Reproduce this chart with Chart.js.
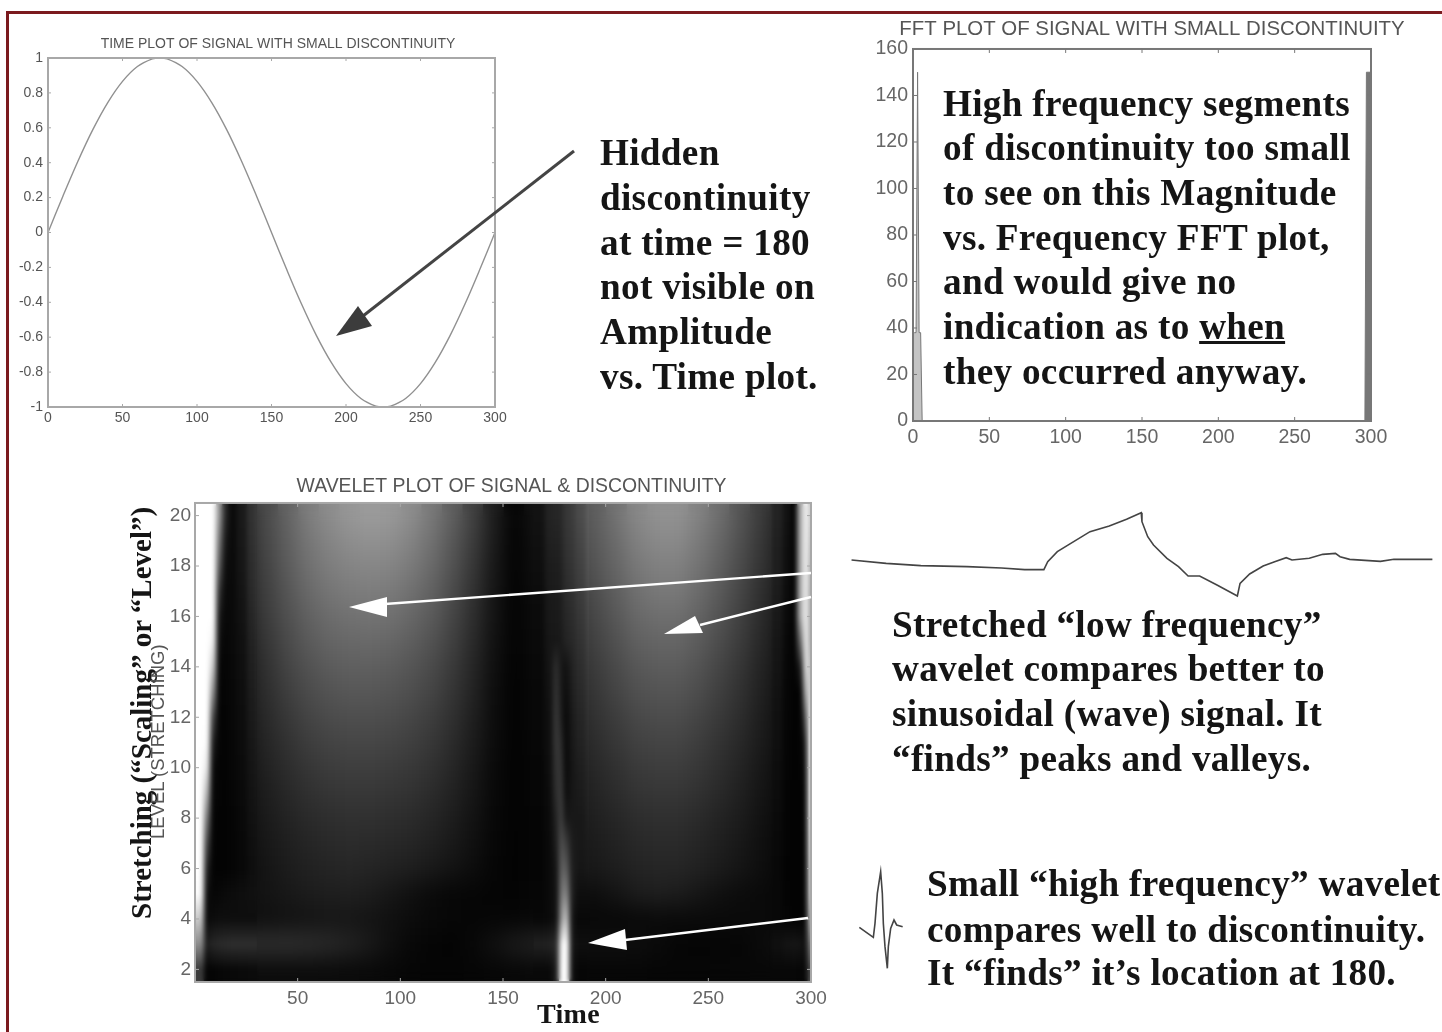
<!DOCTYPE html>
<html><head><meta charset="utf-8">
<script src="https://cdn.jsdelivr.net/npm/chart.js@4"></script>
<style>
html,body{margin:0;padding:0;background:#fff;overflow:hidden}
#stage{position:relative;width:1442px;height:1032px;overflow:hidden;background:#fff;filter:blur(0.7px)}
#border{position:absolute;left:6px;top:11px;width:1600px;height:1200px;border:3px solid #7b1a1e;box-sizing:border-box}
canvas{position:absolute}
.t{position:absolute;white-space:nowrap;font-family:"Liberation Serif",serif;font-weight:bold;color:#151515;line-height:44px;font-size:37.2px;letter-spacing:.3px}
.rot{position:absolute;white-space:nowrap;transform-origin:0 0;transform:rotate(-90deg)}
svg{position:absolute;left:0;top:0}
</style></head><body><div id="stage">
<div id="border"></div>
<canvas id="c1" style="left:0;top:30px" width="556" height="397"></canvas>
<canvas id="c2" style="left:860px;top:10px" width="584" height="439"></canvas>
<canvas id="c3" style="left:120px;top:470px" width="783" height="540"></canvas>
<canvas id="w1" style="left:840px;top:500px" width="602" height="120"></canvas>
<canvas id="w2" style="left:850px;top:860px" width="70" height="110"></canvas>
<svg width="1442" height="1032">
<g fill="#fff" stroke="#fff">
<line x1="811" y1="573" x2="385" y2="604" stroke-width="2.4"/><polygon points="349,607 387,597 387,617" stroke="none"/>
<line x1="811" y1="597" x2="700" y2="625" stroke-width="2.4"/><polygon points="664,634 695,616 703,633" stroke="none"/>
<line x1="808" y1="918" x2="625" y2="940" stroke-width="2.4"/><polygon points="588,943 625,929 627,950" stroke="none"/>
</g>
<line x1="574" y1="151" x2="363" y2="316" stroke="#444" stroke-width="3"/><polygon points="336,336 358,306 372,326" fill="#3c3c3c"/>
</svg>
<div id="text"></div>
<div class="rot" style="left:125px;top:919px;font:bold 29px 'Liberation Serif',serif;color:#151515">Stretching (“Scaling” or “Level”)</div>
<div class="rot" style="left:147px;top:839px;font:18.5px 'Liberation Sans',sans-serif;color:#555">LEVEL (STRETCHING)</div>
<div class="t" style="left:537px;top:992px;font-size:28px">Time</div>
</div>
<script>
// ---- Chart 1: time plot
const timeT = [0,10,20,30,40,50,60,70,75,80,90,100,110,120,130,140,150,160,170,180,190,200,210,220,225,230,240,250,260,270,280,290,300];
const timeAmp = [0,.208,.407,.588,.743,.866,.951,.995,1,.995,.951,.866,.743,.588,.407,.208,0,-.208,-.407,-.588,-.743,-.866,-.951,-.995,-1,-.995,-.951,-.866,-.743,-.588,-.407,-.208,0];
// ---- Chart 2: FFT plot
const fftLowF = [0,1,2,3,4,5,6,50,150];
const fftLowM = [38,38,38,150,38,38,0,0,0];
const fftHighF = [150,250,296,297,299.5,300];
const fftHighM = [0,0,0,150,150,0];
// ---- Chart 3: wavelet heat map (grey 0-255), one list per level, one value per time column
const timeEdges = [0,4,7,10,13,16,20,25,30,40,50,60,70,80,90,100,110,120,130,140,150,160,170,174,177,179,182,185,190,200,210,220,230,240,250,260,270,280,286,290,293,296,298,300];
const levels = [20,19,18,17,16,15,14,13,12,11,10,9,8,7,6,5,4,3,2];
const L20=[255,255,255,150,40,10,25,50,75,100,125,140,150,155,152,140,120,95,65,30,5,18,35,38,40,55,60,75,95,115,135,145,145,130,110,85,60,35,18,3,170,255,200];
const L19=[255,255,255,120,25,10,24,48,72,96,118,132,141,145,142,131,112,88,60,28,4,16,32,34,36,52,56,70,90,108,128,137,137,122,103,80,56,32,16,3,170,255,190];
const L18=[255,255,255,90,15,10,22,45,68,92,112,125,132,135,132,122,105,82,55,25,4,14,28,30,32,48,52,65,85,102,120,128,128,115,96,75,52,30,14,3,170,255,180];
const L17=[255,255,255,50,10,10,20,42,64,86,105,117,123,125,122,112,97,75,50,22,4,12,26,28,30,44,48,60,78,95,112,120,120,107,90,70,48,28,12,3,170,255,170];
const L16=[255,255,255,25,8,10,18,38,60,80,97,108,113,115,112,103,90,70,46,20,4,11,24,26,28,40,44,55,72,88,104,110,110,99,83,65,44,25,10,3,170,255,170];
const L15=[255,255,240,15,6,10,16,34,55,74,90,100,104,105,102,94,82,64,42,18,4,10,22,24,25,36,40,50,66,81,96,101,101,91,76,60,40,22,8,3,100,255,170];
const L14=[255,255,200,8,5,9,15,31,50,68,82,91,95,95,92,85,74,58,38,16,3,9,20,45,24,18,34,45,60,74,87,92,92,83,69,54,36,20,7,3,30,240,190];
const L13=[255,255,140,6,5,8,14,28,46,62,75,83,87,87,84,78,68,53,35,14,3,8,18,50,26,14,30,41,55,68,80,84,84,76,63,49,33,18,6,3,4,180,210];
const L12=[255,255,70,5,4,8,13,26,42,56,68,75,78,78,76,70,61,48,31,13,3,8,16,55,30,10,26,37,50,61,72,76,76,68,57,45,30,16,6,3,4,90,240];
const L11=[255,250,30,5,4,7,12,23,38,50,61,67,70,70,68,63,55,43,28,12,3,7,15,55,45,10,24,34,45,55,65,68,68,61,51,40,27,15,5,3,4,30,255];
const L10=[255,230,12,4,4,7,11,21,34,45,54,60,62,62,60,56,49,38,25,10,3,6,14,50,55,10,22,30,40,49,58,61,61,55,46,36,24,13,5,3,4,15,255];
const L9=[255,180,8,4,3,6,10,19,30,40,48,53,55,55,53,50,43,34,22,9,3,6,12,45,62,14,22,27,36,44,52,54,54,49,41,32,21,12,4,3,3,8,255];
const L8=[255,120,6,3,3,5,9,17,27,35,42,46,48,48,46,43,37,29,19,8,3,5,11,35,70,25,24,24,32,38,45,47,47,42,35,28,18,10,4,3,3,6,250];
const L7=[255,70,5,3,3,5,8,15,24,31,37,41,43,42,40,37,32,25,16,7,3,5,10,30,85,60,28,24,28,34,40,42,42,37,31,24,16,9,4,3,3,5,240];
const L6=[255,35,4,3,3,5,8,14,21,28,33,36,38,36,33,30,25,19,13,6,3,5,10,22,100,90,30,22,25,30,35,37,37,33,27,21,14,8,3,3,3,4,230];
const L5=[250,14,6,8,10,12,14,16,20,24,28,30,31,28,22,16,10,7,6,5,4,6,10,20,120,130,30,14,14,20,28,30,28,22,16,12,10,8,4,3,3,4,220];
const L4=[200,10,12,14,14,14,14,14,16,18,20,22,22,20,16,12,9,7,6,6,6,8,10,18,150,190,20,8,8,8,9,10,10,10,10,10,10,8,5,3,3,3,190];
const L3=[140,30,38,42,44,46,46,46,46,46,44,40,34,25,15,8,5,4,8,16,26,32,34,45,240,255,22,14,14,14,13,10,6,5,5,6,10,16,20,22,20,12,130];
const L2=[60,4,5,7,8,9,10,11,12,12,12,12,11,10,8,6,5,5,6,7,8,9,9,30,255,255,15,6,7,7,7,6,6,6,7,7,8,8,8,8,7,6,80];
const heatRows=[L20,L19,L18,L17,L16,L15,L14,L13,L12,L11,L10,L9,L8,L7,L6,L5,L4,L3,L2];
const sharpRanges=[[0,30],[165,192],[280,300]];
// ---- Sketched wavelets (arbitrary units)
const longX=[30,120,210,330,420,480,530,540,565,600,650,700,745,783,785,800,815,850,880,905,935,980,1033,1040,1065,1100,1130,1160,1175,1220,1255,1288,1300,1325,1405,1440,1540];
const longY=[180,190,197,200,204,209,209,185,155,130,95,78,58,38,65,110,135,175,200,228,228,255,288,250,222,198,185,173,180,175,163,160,170,178,184,178,178];
const shortX=[28,50,70,75,82,92,97,100,105,112,115,122,132,140,158];
const shortY=[202,218,232,190,100,35,100,190,260,325,260,205,180,195,200];
// ---- Text
const block1=["Hidden","discontinuity","at time = 180","not visible on","Amplitude","vs. Time plot."];
const block1Y=[152,197,242,286,331,376];
const block2=["High frequency segments","of discontinuity too small","to see on this Magnitude","vs. Frequency FFT plot,","and would give no","indication as to <u>when</u>","they occurred anyway."];
const block2Y=[103,147,192,237,281,326,371];
const block3=["Stretched “low frequency”","wavelet compares better to","sinusoidal (wave) signal. It","“finds” peaks and valleys."];
const block3Y=[624,668,713,758];
const block4=["Small “high frequency” wavelet","compares well to discontinuity.","It “finds” it’s location at 180."];
const block4Y=[883,929,972];

function addText(lines,ys,left){const h=document.getElementById('text');lines.forEach((s,i)=>{const d=document.createElement('div');d.className='t';d.style.left=left+'px';d.style.top=(ys[i]-21)+'px';d.innerHTML=s;h.appendChild(d);});}
addText(block1,block1Y,600);addText(block2,block2Y,943);addText(block3,block3Y,892);addText(block4,block4Y,927);

Chart.defaults.animation=false;
Chart.defaults.font.family="'Liberation Sans',sans-serif";

const frame={id:'frame',afterDraw(ch,a,o){
  const {ctx,chartArea:c,scales:{x,y}}=ch;
  ctx.save();ctx.strokeStyle=o.color;ctx.lineWidth=o.width;ctx.strokeRect(c.left,c.top,c.right-c.left,c.bottom-c.top);
  ctx.lineWidth=1;ctx.beginPath();
  x.ticks.forEach(t=>{const p=x.getPixelForValue(t.value);ctx.moveTo(p,c.bottom);ctx.lineTo(p,c.bottom-o.tick);ctx.moveTo(p,c.top);ctx.lineTo(p,c.top+o.tick);});
  y.ticks.forEach(t=>{const p=y.getPixelForValue(t.value);ctx.moveTo(c.left,p);ctx.lineTo(c.left+o.tick,p);ctx.moveTo(c.right,p);ctx.lineTo(c.right-o.tick,p);});
  ctx.stroke();ctx.restore();}};

function axes(cfg){return {
  x:{type:'linear',min:cfg.xmin,max:cfg.xmax,afterFit:s=>{s.height=cfg.xh;},border:{display:false},grid:{display:false,drawTicks:false},
     ticks:{stepSize:cfg.xstep,includeBounds:false,autoSkip:false,maxRotation:0,font:{size:cfg.fs},color:cfg.tc,padding:cfg.xpad,callback:v=>(cfg.hideZero&&v===0)?'':String(v)}},
  y:{type:'linear',min:cfg.ymin,max:cfg.ymax,offset:false,afterFit:s=>{s.width=cfg.yw;},border:{display:false},grid:{display:false,drawTicks:false},
     ticks:{stepSize:cfg.ystep,includeBounds:false,autoSkip:false,font:{size:cfg.fs},color:cfg.tc,padding:cfg.ypad,callback:v=>String(+(+v).toFixed(1))}},
  margin:{type:'linear',position:'right',offset:false,afterFit:s=>{s.width=cfg.rw;},border:{display:false},grid:{display:false,drawTicks:false},ticks:{display:false}}
};}
function title(text,size,top,bottom,color){return {display:true,text,color,font:{size,weight:'normal'},padding:{top,bottom}};}

new Chart(document.getElementById('c1'),{type:'scatter',
 data:{datasets:[{data:timeT.map((t,i)=>({x:t,y:timeAmp[i]})),showLine:true,borderColor:'#909090',borderWidth:1.4,pointRadius:0,tension:.35}]},
 options:{responsive:false,layout:{padding:0},scales:axes({xmin:0,xmax:300,xstep:50,ymin:-1,ymax:1,ystep:.2,fs:14,tc:'#555',xh:20,yw:48,rw:61,xpad:3,ypad:5}),
  plugins:{legend:{display:false},tooltip:{enabled:false},title:title('TIME PLOT OF SIGNAL WITH SMALL DISCONTINUITY',14,5.6,5.6,'#555'),frame:{color:'#a8a8a8',width:2,tick:3}}},plugins:[frame]});

new Chart(document.getElementById('c2'),{type:'scatter',
 data:{datasets:[
  {data:fftLowF.map((t,i)=>({x:t,y:fftLowM[i]})),showLine:true,borderColor:'#777',borderWidth:1,pointRadius:0,fill:'origin',backgroundColor:'#c4c4c4'},
  {data:fftHighF.map((t,i)=>({x:t,y:fftHighM[i]})),showLine:true,borderColor:'#777',borderWidth:1,pointRadius:0,fill:'origin',backgroundColor:'#777'}]},
 options:{responsive:false,layout:{padding:0},scales:axes({xmin:0,xmax:300,xstep:50,ymin:0,ymax:160,ystep:20,fs:19.5,tc:'#666',xh:28,yw:53,rw:73,xpad:5,ypad:5}),
  plugins:{legend:{display:false},tooltip:{enabled:false},title:title('FFT PLOT OF SIGNAL WITH SMALL DISCONTINUITY',20.4,6.8,7.7,'#555'),frame:{color:'#777',width:2,tick:4}}},plugins:[frame]});

const grey=v=>`rgb(${v},${v},${v})`;
const heatSets=timeEdges.slice(0,-1).map((t0,c)=>({
  data:levels.map(l=>({y:l,x:[t0,timeEdges[c+1]]})),
  backgroundColor:heatRows.map(r=>grey(r[c])),
  borderWidth:0,inflateAmount:0.6,barPercentage:1,categoryPercentage:1,grouped:false}));
const smooth={id:'smooth',afterDatasetsDraw(ch){
  const {ctx,chartArea:c,canvas,scales:{x}}=ch,w=Math.round(c.right-c.left),h=Math.round(c.bottom-c.top),n=levels.length;
  const off=document.createElement('canvas');off.width=w;off.height=n;const o=off.getContext('2d');
  o.imageSmoothingEnabled=false;o.drawImage(canvas,c.left,c.top,w,h,0,0,w,n);
  const o2=document.createElement('canvas');o2.width=w;o2.height=h;const q=o2.getContext('2d');
  q.imageSmoothingEnabled=true;q.imageSmoothingQuality='medium';q.drawImage(off,0,0,w,n,0,0,w,h);
  ctx.save();ctx.beginPath();ctx.rect(c.left,c.top,w,h);ctx.clip();
  ctx.drawImage(o2,c.left,c.top);
  ctx.filter='blur(8px)';ctx.drawImage(o2,c.left,c.top);
  ctx.beginPath();sharpRanges.forEach(([a,b])=>{const p=x.getPixelForValue(a),r=x.getPixelForValue(b);ctx.rect(p,c.top,r-p,h);});ctx.clip();
  ctx.filter='none';ctx.drawImage(o2,c.left,c.top);
  ctx.filter='blur(2.5px)';ctx.drawImage(o2,c.left,c.top);ctx.restore();}};
new Chart(document.getElementById('c3'),{type:'bar',
 data:{datasets:heatSets},
 options:{indexAxis:'y',responsive:false,layout:{padding:0},scales:axes({xmin:0,xmax:300,xstep:50,ymin:1.5,ymax:20.5,ystep:2,fs:19,tc:'#666',xh:28,yw:75,rw:92,xpad:5,ypad:4,hideZero:true}),
  plugins:{legend:{display:false},tooltip:{enabled:false},title:title('WAVELET PLOT OF SIGNAL & DISCONTINUITY',19.4,4.85,4.85,'#555'),frame:{color:'#a8a8a8',width:2,tick:4}}},plugins:[smooth,frame]});

function sketch(id,xs,ys,xmax,ymax,lw,col){
 new Chart(document.getElementById(id),{type:'scatter',
  data:{datasets:[{data:xs.map((x,i)=>({x,y:ys[i]})),showLine:true,borderColor:col,borderWidth:lw,pointRadius:0}]},
  options:{responsive:false,layout:{padding:0},scales:{x:{display:false,min:0,max:xmax},y:{display:false,min:0,max:ymax,reverse:true}},
   plugins:{legend:{display:false},tooltip:{enabled:false}}}});}
sketch('w1',longX,longY,1565,360,1.6,'#444');
sketch('w2',shortX,shortY,210,330,1.6,'#444');
</script></body></html>
